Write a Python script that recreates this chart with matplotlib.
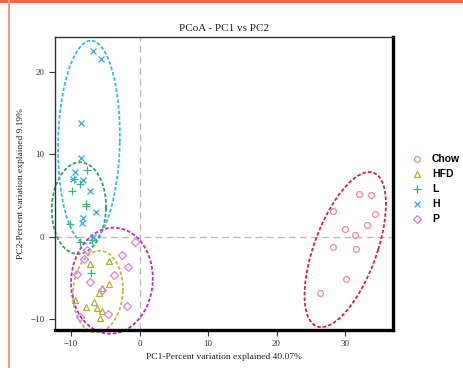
import numpy as np
import matplotlib
matplotlib.use("Agg")
import matplotlib.pyplot as plt
from matplotlib.patches import Rectangle

# ---------------- data ----------------
groups = ["Chow", "HFD", "L", "H", "P"]

chow_x = [32.0, 33.8, 28.3, 34.3, 33.2, 30.0, 31.5, 28.3, 31.6, 30.1, 26.4]
chow_y = [5.2, 5.1, 3.1, 2.8, 1.4, 0.9, 0.2, -1.2, -1.5, -5.1, -6.8]

hfd_x = [-7.3, -4.4, -4.4, -5.5, -5.9, -9.4, -6.7, -7.8, -6.2, -5.5, -5.8]
hfd_y = [-3.3, -3.0, -5.8, -6.2, -6.8, -7.7, -7.9, -8.6, -8.7, -9.0, -9.9]

l_x = [-7.7, -8.7, -9.9, -7.8, -7.8, -10.1, -8.7, -7.0, -7.1, -9.6]
l_y = [8.1, 6.45, 5.5, 4.0, 3.7, 1.5, -0.6, -0.4, -4.4, 7.0]

h_x = [-6.8, -5.6, -8.5, -8.5, -9.4, -9.7, -8.2, -7.2, -6.3, -8.2, -8.4, -6.8]
h_y = [22.6, 21.6, 13.8, 9.6, 7.9, 7.0, 6.9, 5.5, 2.95, 2.3, 1.6, -0.1]

p_x = [-0.7, -2.6, -1.7, -3.7, -8.1, -7.6, -9.2, -7.3, -5.5, -1.8, -4.6, -8.7]
p_y = [-0.6, -2.2, -3.7, -4.7, -2.7, -1.6, -4.5, -5.5, -6.5, -8.4, -9.4, -9.8]

# confidence ellipses: centre, half-width, half-height, x-offset of the top point
ell_cx = [30.03, -6.07, -8.85, -7.38, -4.03]
ell_cy = [-1.58, -6.68, 3.46, 11.48, -5.35]
ell_sx = [5.94, 3.64, 3.96, 4.51, 5.97]
ell_sy = [9.42, 4.96, 5.57, 12.33, 6.44]
ell_d = [3.49, 0.25, 0.16, 0.29, 0.25]

xs = [chow_x, hfd_x, l_x, h_x, p_x]
ys = [chow_y, hfd_y, l_y, h_y, p_y]

x_ticks = [-10, 0, 10, 20, 30]
y_ticks = [-10, 0, 10, 20]

title = "PCoA - PC1 vs PC2"
xlabel = "PC1-Percent variation explained 40.07%"
ylabel = "PC2-Percent variation explained 9.19%"

# ---------------- style ----------------
markers = ["o", "^", "+", "x", "D"]
msizes = [4.2, 5.0, 6.0, 5.0, 4.2]
pt_colors = ["#F08C8C", "#B0B030", "#30BB70", "#35A8E6", "#E07FE8"]
el_colors = ["#D8243C", "#BCBC48", "#2EA060", "#38B8E8", "#C02CC8"]

serif = ["Liberation Serif", "DejaVu Serif"]

fig = plt.figure(figsize=(4.64, 3.68), dpi=100)
fig.patch.set_facecolor("white")
ax = fig.add_axes([55 / 464, 1 - 330 / 368, (393 - 55) / 464, (330 - 37) / 368])

# reference lines
ax.axvline(0, color="#BDBDBD", lw=1.0, ls=(0, (5, 3)), zorder=1)
ax.axhline(0, color="#BDBDBD", lw=1.0, ls=(0, (5, 3)), zorder=1)

handles = []
t = np.linspace(0, 2 * np.pi, 300)
for i, g in enumerate(groups):
    h, = ax.plot(xs[i], ys[i], ls="none", marker=markers[i], ms=msizes[i],
                 mfc="none", mec=pt_colors[i], mew=0.9, zorder=3, label=g)
    handles.append(h)
    a = np.sqrt(ell_sx[i] ** 2 - ell_d[i] ** 2)
    ex = ell_cx[i] + a * np.cos(t) + ell_d[i] * np.sin(t)
    ey = ell_cy[i] + ell_sy[i] * np.sin(t)
    ax.plot(ex, ey, color=el_colors[i], lw=1.3, ls=(0, (2.0, 1.1)),
            zorder=2, clip_on=False)

ax.set_xlim(-12.34, 37.0)
ax.set_ylim(-11.34, 24.25)
ax.set_xticks(x_ticks)
ax.set_yticks(y_ticks)
ax.tick_params(axis="both", direction="out", length=4, width=0.8,
               labelsize=6.5, colors="#333333", pad=3.5)
for lab in ax.get_xticklabels() + ax.get_yticklabels():
    lab.set_fontfamily(serif)

for s in ["left", "top"]:
    ax.spines[s].set_linewidth(1.0)
    ax.spines[s].set_color("#333333")
for s in ["right", "bottom"]:
    ax.spines[s].set_linewidth(2.4)
    ax.spines[s].set_color("black")

ax.set_title(title, fontsize=8, family=serif, pad=4, color="#222222")
ax.set_xlabel(xlabel, fontsize=6.8, family=serif, labelpad=3, color="#222222")
ax.set_ylabel(ylabel, fontsize=6.8, family=serif, labelpad=4, color="#222222")

leg = fig.legend(handles=handles, labels=groups, loc="upper left",
                 bbox_to_anchor=(408 / 464, 1 - 150 / 368), frameon=False,
                 prop={"family": ["Liberation Sans", "DejaVu Sans"],
                       "weight": "bold", "size": 7.5},
                 handlelength=1.0, handletextpad=0.9, labelspacing=0.48,
                 borderaxespad=0)

# orange frame of the screenshot
fig.add_artist(Rectangle((0, 1 - 2.5 / 368), 1, 2.5 / 368, transform=fig.transFigure,
                         color="#F26A3C", lw=0))
fig.add_artist(Rectangle((8 / 464, 0), 2 / 464, 1, transform=fig.transFigure,
                         color="#F59A78", lw=0))

fig.savefig("out.png", dpi=100)
